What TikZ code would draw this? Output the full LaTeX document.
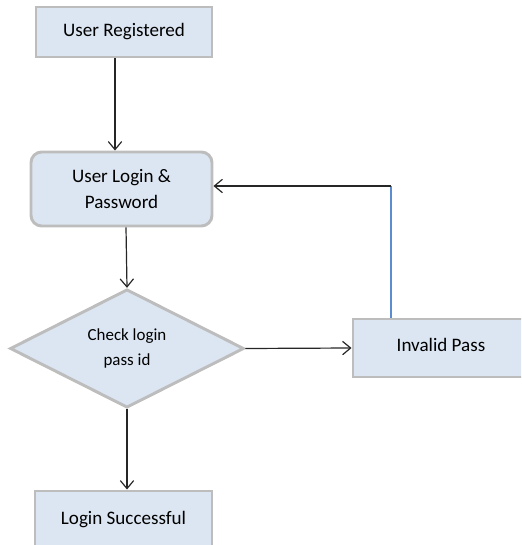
\documentclass[tikz,border=0pt]{standalone}
\usepackage{fontspec}
\setmainfont{Carlito}
\usetikzlibrary{shapes.geometric,arrows.meta,calc}
\begin{document}
\begin{tikzpicture}[x=0.75pt,y=-0.75pt,
  box/.style={draw=boxgray,line width=2.2pt,fill=boxfill,inner sep=0pt,
    font=\fontsize{14.3}{20}\selectfont,align=center},
  dia/.style={diamond,draw=boxgray,line width=2.2pt,fill=boxfill,inner sep=0pt,
    font=\fontsize{12.7}{19}\selectfont,align=center},
  arr/.style={draw=black!85,line width=0.9pt,-{Straight Barb[length=6pt,width=10pt]}},
  ln/.style={draw=black!85,line width=0.9pt}]
\definecolor{boxgray}{HTML}{BDBDBD}
\definecolor{boxfill}{HTML}{DCE6F2}
\definecolor{blueline}{HTML}{5B8BD0}
\useasboundingbox (0,0) rectangle (521,545);
\clip (0,0) rectangle (521,545);
\node[box,minimum width=176*0.75pt,minimum height=50*0.75pt] (ur) at (124,32) {\raisebox{3pt}{User Registered}};
\node[box,rounded corners=8pt,minimum width=181*0.75pt,minimum height=74*0.75pt] (login) at (121.5,189) {User Login \&\\Password};
\node[dia,minimum width=234*0.75pt,minimum height=113*0.75pt] (chk) at (127,348.5) {Check login\\pass id};
\node[box,minimum width=176*0.75pt,minimum height=58*0.75pt] (inv) at (441,348) {\raisebox{5pt}{Invalid Pass}};
\node[box,minimum width=177*0.75pt,minimum height=80*0.75pt] (ok) at (123.5,531) {\raisebox{20pt}{Login Successful}};
\coordinate (corner) at (391,186);
\draw[arr] (ur.south -| 115,0) -- (login.north -| 115,0);
\draw[arr] (login.south -| 126,0) -- (chk.north);
\draw[arr] (chk.east) -- (inv.west);
\draw[arr] (chk.south) -- (ok.north -| chk.south);
\draw[blueline,line width=0.9pt] (inv.north -| corner) -- (corner);
\draw[arr] (corner) -- (login.east |- corner);
\end{tikzpicture}
\end{document}
